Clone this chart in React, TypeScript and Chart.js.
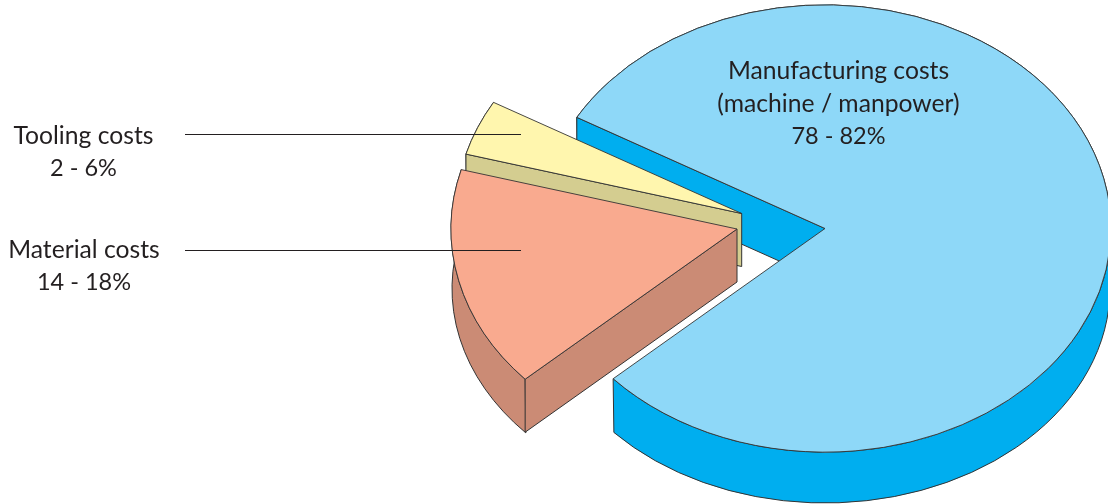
import React, { useEffect, useRef } from "react";
import { Chart, registerables } from "chart.js";

Chart.register(...registerables);

const categories = ["Manufacturing costs", "Material costs", "Tooling costs"];
const shares = [80, 16, 4];
const rangeLabels = ["78 - 82%", "14 - 18%", "2 - 6%"];
const subLabel = "(machine / manpower)";
const topColors = ["#8ED8F8", "#F9AA8F", "#FFF6AE"];
const wallColors = ["#00AEEF", "#CB8B75", "#D4CD90"];

// drawing-only settings
const TILT = 0.782;
const DEPTH = 53;
const RIM_DROP = 59.5;
const RIM_RX = 285;
const RIM_RY = 215;
const RADIUS = 286;
const ROTATION = 299.8;
const CENTERS = [
  [825, 228.5],
  [737, 229],
  [741.7, 213.5],
];
const PAINT_ORDER = [0, 2, 1];
const FONT_TEXT = '24.7px Lato, "Noto Sans", sans-serif';
const FONT_NUM = '23.5px Lato, "Noto Sans", sans-serif';
const INK = "#231F20";
const EDGE = "#333333";

const pie3d = {
  id: "pie3d",
  afterDatasetUpdate(chart: any, args: any) {
    args.meta.data.forEach((arc: any, i: number) => {
      arc.x = CENTERS[i][0];
      arc.y = CENTERS[i][1] / TILT;
    });
  },
  beforeDatasetDraw(chart: any, args: any) {
    const ctx = chart.ctx;
    const arcs = args.meta.data;
    PAINT_ORDER.forEach((i) => {
      const arc = arcs[i];
      const cx = arc.x;
      const cy = arc.y * TILT;
      const r = arc.outerRadius;
      const a = arc.startAngle;
      const b = arc.endAngle;
      ctx.save();
      ctx.fillStyle = wallColors[i];
      ctx.strokeStyle = EDGE;
      ctx.lineWidth = 1;
      ctx.lineJoin = "miter";
      // outer rim
      ctx.beginPath();
      ctx.ellipse(cx, cy, r, r * TILT, 0, a, b);
      ctx.ellipse(cx, cy + RIM_DROP, RIM_RX, RIM_RY, 0, b, a, true);
      ctx.closePath();
      ctx.fill();
      ctx.stroke();
      // the visible cut face, along the slice's leading edge
      const ex = cx + Math.cos(a) * r;
      const ey = cy + Math.sin(a) * r * TILT;
      ctx.beginPath();
      ctx.moveTo(cx, cy);
      ctx.lineTo(ex, ey);
      ctx.lineTo(ex, ey + DEPTH);
      ctx.lineTo(cx, cy + DEPTH);
      ctx.closePath();
      ctx.fill();
      ctx.stroke();
      // top face, drawn by the library's arc element
      ctx.scale(1, TILT);
      arc.draw(ctx);
      ctx.restore();
    });
    return false;
  },
  afterDraw(chart: any) {
    const ctx = chart.ctx;
    ctx.save();
    ctx.strokeStyle = INK;
    ctx.lineWidth = 1;
    [134.5, 250.5].forEach((y) => {
      ctx.beginPath();
      ctx.moveTo(185, y);
      ctx.lineTo(521, y);
      ctx.stroke();
    });
    ctx.fillStyle = INK;
    ctx.textAlign = "center";
    ctx.textBaseline = "alphabetic";
    ctx.font = FONT_TEXT;
    ctx.fillText(categories[0], 838.5, 79);
    ctx.fillText(subLabel, 838.5, 112);
    ctx.fillText(categories[2], 83.5, 144);
    ctx.fillText(categories[1], 84, 258);
    ctx.font = FONT_NUM;
    ctx.fillText(rangeLabels[0], 838.5, 144);
    ctx.fillText(rangeLabels[2], 83.5, 176);
    ctx.fillText(rangeLabels[1], 84, 290);
    ctx.restore();
  },
};

export default function App() {
  const ref = useRef<HTMLCanvasElement>(null);
  useEffect(() => {
    const chart = new Chart(ref.current as HTMLCanvasElement, {
      type: "pie",
      data: {
        labels: categories,
        datasets: [
          {
            data: shares,
            backgroundColor: topColors,
            borderColor: EDGE,
            borderWidth: 1,
            borderJoinStyle: "miter",
            clip: false,
          } as any,
        ],
      },
      options: {
        responsive: false,
        animation: false,
        rotation: ROTATION,
        radius: RADIUS,
        layout: { padding: 0 },
        plugins: { legend: { display: false }, tooltip: { enabled: false } },
      } as any,
      plugins: [pie3d as any],
    });
    return () => chart.destroy();
  }, []);
  return (
    <div style={{ position: "fixed", left: 0, top: 0, width: 1108, height: 504, background: "#fff" }}>
      <canvas ref={ref} width={1108} height={504} style={{ display: "block" }} />
    </div>
  );
}
